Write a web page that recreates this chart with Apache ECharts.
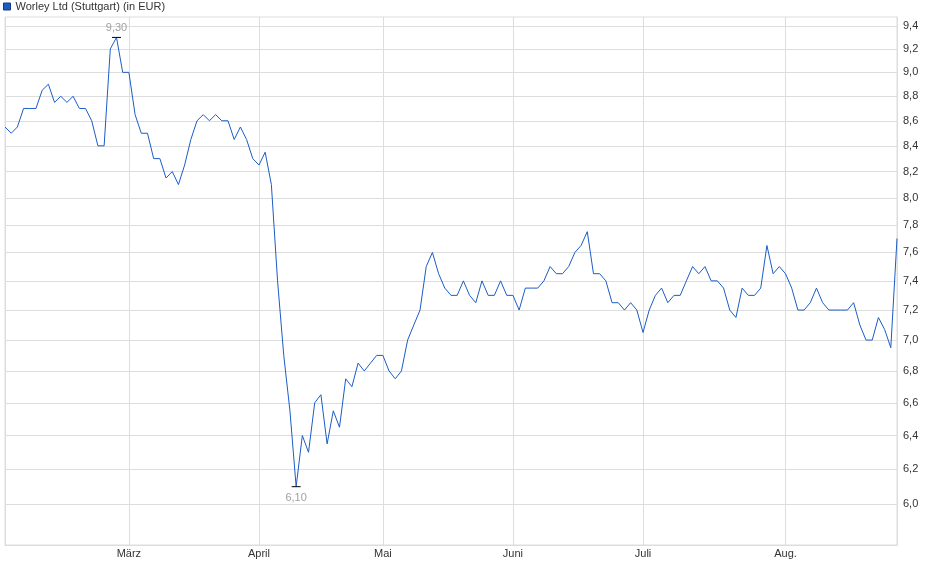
<!DOCTYPE html>
<html>
<head>
<meta charset="utf-8">
<script src="https://cdn.jsdelivr.net/npm/echarts@6/dist/echarts.min.js"></script>
<style>
  html, body { margin: 0; padding: 0; background: #fff; }
  #chart { width: 940px; height: 579px; }
</style>
</head>
<body>
<div id="chart"></div>
<script>
'use strict';

// Closing prices (EUR), one entry per trading day, grouped by month
var feb = [8.55, 8.50, 8.55, 8.70, 8.70, 8.70, 8.85, 8.90, 8.75, 8.80,
           8.75, 8.80, 8.70, 8.70, 8.60, 8.40, 8.40, 9.20, 9.30, 9.00];
var mar = [9.00, 8.65, 8.50, 8.50, 8.30, 8.30, 8.15, 8.20, 8.10, 8.25,
           8.45, 8.60, 8.65, 8.60, 8.65, 8.60, 8.60, 8.45, 8.55, 8.45, 8.30];
var apr = [8.25, 8.35, 8.10, 7.40, 6.90, 6.55, 6.10, 6.40, 6.30, 6.60,
           6.65, 6.35, 6.55, 6.45, 6.75, 6.70, 6.85, 6.80, 6.85, 6.90];
var may = [6.90, 6.80, 6.75, 6.80, 7.00, 7.10, 7.20, 7.50, 7.60, 7.45,
           7.35, 7.30, 7.30, 7.40, 7.30, 7.25, 7.40, 7.30, 7.30, 7.40, 7.30];
var jun = [7.30, 7.20, 7.35, 7.35, 7.35, 7.40, 7.50, 7.45, 7.45, 7.50,
           7.60, 7.65, 7.75, 7.45, 7.45, 7.40, 7.25, 7.25, 7.20, 7.25, 7.20];
var jul = [7.05, 7.20, 7.30, 7.35, 7.25, 7.30, 7.30, 7.40, 7.50, 7.45,
           7.50, 7.40, 7.40, 7.35, 7.20, 7.15, 7.35, 7.30, 7.30, 7.35,
           7.65, 7.45, 7.50];
var aug = [7.45, 7.35, 7.20, 7.20, 7.25, 7.35, 7.25, 7.20, 7.20, 7.20,
           7.20, 7.25, 7.10, 7.00, 7.00, 7.15, 7.07, 6.95, 7.70];

var monthLabels = ['', 'März', 'April', 'Mai', 'Juni', 'Juli', 'Aug.'];
var yTicks = [6.0, 6.2, 6.4, 6.6, 6.8, 7.0, 7.2, 7.4, 7.6, 7.8,
              8.0, 8.2, 8.4, 8.6, 8.8, 9.0, 9.2, 9.4];

var seriesName = 'Worley Ltd (Stuttgart) (in EUR)';
var lineColor = '#1b5cc6';
var gridColor = '#dddddd';

// flatten months into one category axis; remember where each month starts
var categories = [];
var values = [];
var monthStarts = {};
[feb, mar, apr, may, jun, jul, aug].forEach(function (m, k) {
  m.forEach(function (v, j) {
    if (j === 0) monthStarts[categories.length] = true;
    categories.push(j === 0 ? monthLabels[k] : '');
    values.push(v);
  });
});

function fmt(v, digits) {
  return v.toFixed(digits).replace('.', ',');
}

var chart = echarts.init(document.getElementById('chart'), null, {renderer: 'canvas'});

chart.setOption({
  animation: false,
  textStyle: {fontFamily: '"Liberation Sans", Arial, sans-serif'},
  legend: {
    left: 0,
    top: 0,
    padding: [1, 0, 0, 3],
    itemWidth: 7,
    itemHeight: 7,
    icon: 'rect',
    selectedMode: false,
    itemStyle: {borderColor: '#163c7c', borderWidth: 1},
    textStyle: {fontSize: 11, color: '#333'},
    data: [seriesName],
  },
  grid: {
    left: 5,
    right: 43,
    top: 17,
    bottom: 34,
    show: true,
    borderColor: gridColor,
    borderWidth: 1,
  },
  xAxis: {
    type: 'category',
    data: categories,
    boundaryGap: false,
    axisLine: {show: true, lineStyle: {color: gridColor}},
    axisTick: {show: false},
    axisLabel: {
      interval: function (i) { return !!monthStarts[i]; },
      fontSize: 11,
      color: '#333',
      margin: 3,
    },
    splitLine: {
      show: true,
      interval: function (i) { return !!monthStarts[i]; },
      lineStyle: {color: gridColor, width: 1},
    },
  },
  yAxis: {
    type: 'log',
    logBase: 10,
    position: 'right',
    min: 5.775,
    max: 9.48,
    axisLine: {show: true, lineStyle: {color: gridColor}},
    axisTick: {show: false, customValues: yTicks},
    axisLabel: {
      customValues: yTicks,
      fontSize: 11,
      color: '#333',
      margin: 6,
      formatter: function (v) { return fmt(v, 1); },
    },
    splitLine: {show: true, lineStyle: {color: gridColor, width: 1}},
  },
  series: [{
    name: seriesName,
    type: 'line',
    data: values,
    color: lineColor,
    showSymbol: false,
    lineStyle: {color: lineColor, width: 1},
    markPoint: {
      symbol: 'rect',
      symbolSize: [9, 1],
      itemStyle: {color: '#000'},
      label: {
        show: true,
        fontSize: 11,
        color: '#a0a0a0',
        formatter: function (p) { return fmt(p.value, 2); },
      },
      data: [
        {type: 'max', label: {position: 'top', distance: 3}},
        {type: 'min', label: {position: 'bottom', distance: 5}},
      ],
    },
  }],
});
</script>
</body>
</html>
